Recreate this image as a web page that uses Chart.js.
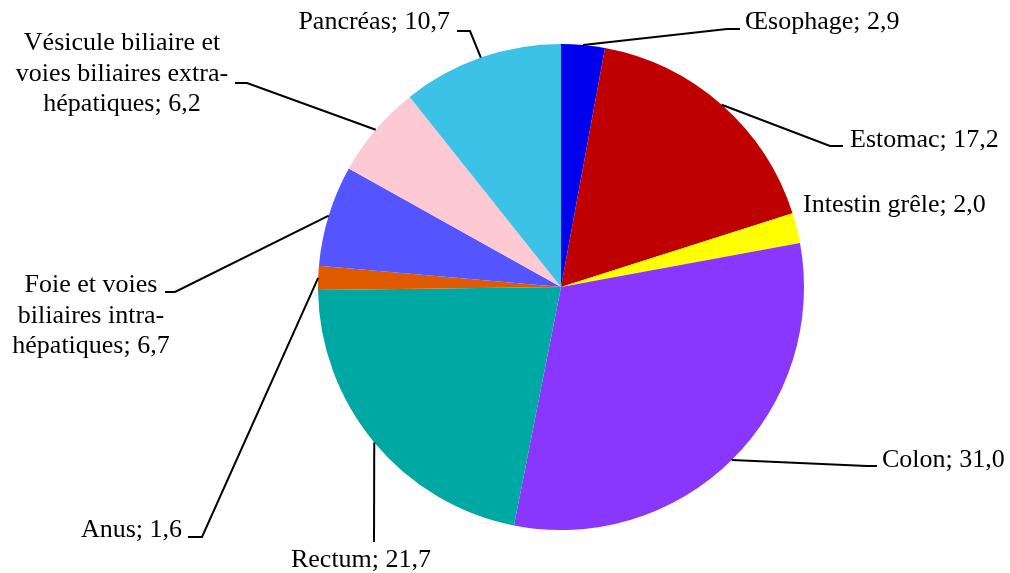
<!DOCTYPE html>
<html>
<head>
<meta charset="utf-8">
<script src="https://cdn.jsdelivr.net/npm/chart.js@4"></script>
<style>
    html, body { margin: 0; padding: 0; background: #ffffff; }
    #wrap { width: 1010px; height: 573px; }
</style>
</head>
<body>
<div id="wrap"><canvas id="chart" width="1010" height="573"></canvas></div>
<script>
// Data
const categories = [
    ['Œsophage'],
    ['Estomac'],
    ['Intestin grêle'],
    ['Colon'],
    ['Rectum'],
    ['Anus'],
    ['Foie et voies', 'biliaires intra-', 'hépatiques'],
    ['Vésicule biliaire et', 'voies biliaires extra-', 'hépatiques'],
    ['Pancréas']
];
const shares = [2.9, 17.2, 2.0, 31.0, 21.7, 1.6, 6.7, 6.2, 10.7];
const sliceColors = [
    '#0000EE', '#BF0000', '#FFFF00', '#8936FF', '#00A8A4',
    '#E05A00', '#5555FF', '#FDC9D3', '#3CC2E7'
];

// Label placement, offsets from the pie centre (px)
const labelLayout = [
    { tx: 184, ty: -258, align: 'left', leader: [[166, -258], [179, -258]] },
    { tx: 289, ty: -140, align: 'left', leader: [[269, -141], [282, -141]] },
    { tx: 242, ty: -75, align: 'left', leader: null },
    { tx: 321, ty: 180, align: 'left', leader: [[306, 179], [316, 179]] },
    { tx: -200, ty: 280, align: 'center', leader: [[-187, 255]] },
    { tx: -379, ty: 250, align: 'right', leader: [[-359, 250], [-373, 250]] },
    { tx: -470, ty: 5, align: 'center', leader: [[-386, 5], [-396, 5]] },
    { tx: -439, ty: -237, align: 'center', leader: [[-314, -204], [-326, -204]] },
    { tx: -111, ty: -258, align: 'right', leader: [[-91, -256], [-104, -256]] }
];

function fmt(v) {
    return v.toFixed(1).replace('.', ',');
}

const pieLabels = {
    id: 'pieLabels',
    afterDatasetsDraw(chart) {
        const ctx = chart.ctx;
        const arcs = chart.getDatasetMeta(0).data;
        ctx.save();
        ctx.font = '26px "Liberation Serif", "Times New Roman", serif';
        ctx.fillStyle = '#000000';
        ctx.strokeStyle = '#000000';
        ctx.lineWidth = 2;
        ctx.textBaseline = 'alphabetic';
        arcs.forEach((arc, i) => {
            const p = arc.getProps(['x', 'y', 'startAngle', 'endAngle', 'outerRadius'], true);
            const mid = (p.startAngle + p.endAngle) / 2;
            const ax = p.x + Math.cos(mid) * p.outerRadius;
            const ay = p.y + Math.sin(mid) * p.outerRadius;
            const lay = labelLayout[i];

            if (lay.leader) {
                ctx.beginPath();
                ctx.moveTo(ax, ay);
                lay.leader.forEach(pt => ctx.lineTo(p.x + pt[0], p.y + pt[1]));
                ctx.stroke();
            }

            const lines = categories[i].slice();
            lines[lines.length - 1] += '; ' + fmt(shares[i]);
            ctx.textAlign = lay.align;
            lines.forEach((line, k) => {
                ctx.fillText(line, p.x + lay.tx, p.y + lay.ty + k * 30.5);
            });
        });
        ctx.restore();
    }
};

const chart = new Chart(document.getElementById('chart').getContext('2d'), {
    type: 'pie',
    data: {
        labels: categories.map(c => c.join(' ')),
        datasets: [{
            data: shares,
            backgroundColor: sliceColors,
            borderWidth: 0
        }]
    },
    options: {
        responsive: false,
        animation: false,
        layout: {
            padding: { left: 318, right: 206, top: 44, bottom: 43 }
        },
        plugins: {
            legend: { display: false },
            tooltip: { enabled: false }
        }
    },
    plugins: [pieLabels]
});
</script>
</body>
</html>
